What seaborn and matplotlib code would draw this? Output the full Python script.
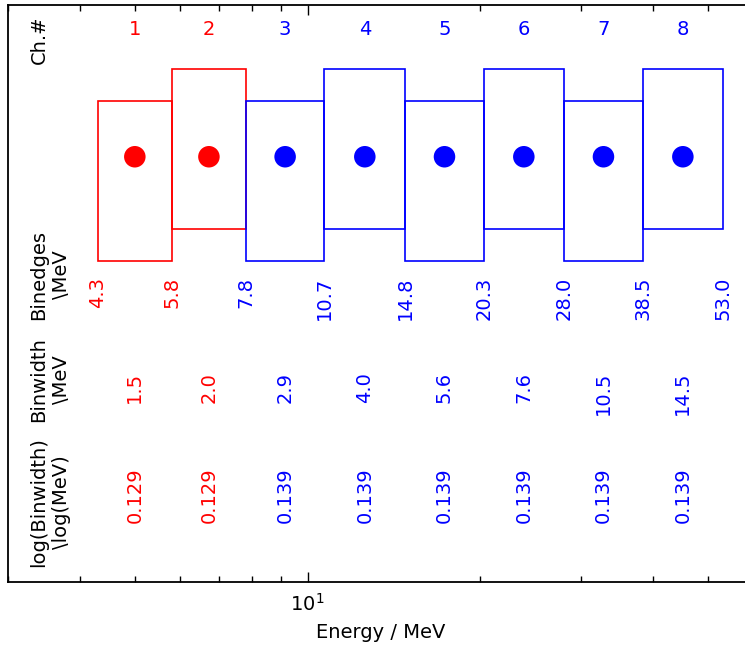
import numpy as np
import matplotlib
matplotlib.use('Agg')
from matplotlib import pyplot as plt
from matplotlib import transforms, ticker
import seaborn as sns

# 能道数据
channels = [1, 2, 3, 4, 5, 6, 7, 8]
edges = [4.3, 5.8, 7.8, 10.7, 14.8, 20.3, 28.0, 38.5, 53.0]
edge_labels = ['4.3', '5.8', '7.8', '10.7', '14.8', '20.3', '28.0', '38.5', '53.0']
binwidth_labels = ['1.5', '2.0', '2.9', '4.0', '5.6', '7.6', '10.5', '14.5']
logwidth_labels = ['0.129', '0.129', '0.139', '0.139', '0.139', '0.139', '0.139', '0.139']

sns.set_style('ticks')
plt.rcParams['font.family'] = ['DejaVu Sans']
plt.rcParams['text.color'] = 'black'
plt.rcParams['axes.labelcolor'] = 'black'
plt.rcParams['xtick.color'] = 'black'

colors = {'0.129': '#ff0000', '0.139': '#0000ff'}
ch_colors = [colors[v] for v in logwidth_labels]
edge_colors = ch_colors + [ch_colors[-1]]

left = np.array(edges[:-1])
right = np.array(edges[1:])
centers = np.sqrt(left * right)

fig = plt.figure(figsize=(7.45, 6.5), dpi=100)
ax = fig.add_axes([8 / 745, 68 / 650, 745.5 / 745, 577 / 650])
ax.set_xscale('log')
ax.set_xlim(3, 60)
ax.set_ylim(0, 100)

# 方框：奇偶道交错
bottoms = np.where(np.arange(len(channels)) % 2 == 0, 55.6, 61.2)
ax.bar(left, 27.7, width=right - left, bottom=bottoms, align='edge',
       fill=False, edgecolor=ch_colors, linewidth=1.2)

# 中心点
sns.scatterplot(x=centers, y=np.full(len(centers), 73.7), hue=logwidth_labels,
                palette=colors, s=240, linewidth=0, legend=False, ax=ax, zorder=3)

fs = 14
for c, ch, col in zip(centers, channels, ch_colors):
    ax.text(c, 95.7, str(ch), color=col, fontsize=fs, ha='center', va='center')
for e, lab, col in zip(edges, edge_labels, edge_colors):
    ax.text(e, 52.9, lab, color=col, fontsize=fs, rotation=90, ha='center', va='top')
for c, lab, col in zip(centers, binwidth_labels, ch_colors):
    ax.text(c, 36.4, lab, color=col, fontsize=fs, rotation=90, ha='center', va='top')
for c, lab, col in zip(centers, logwidth_labels, ch_colors):
    ax.text(c, 19.8, lab, color=col, fontsize=fs, rotation=90, ha='center', va='top')

trans = transforms.blended_transform_factory(ax.transAxes, ax.transData)
row_names = ['Ch.#', 'Binedges\n\\MeV', 'Binwidth\n\\MeV', 'log(Binwidth)\n\\log(MeV)']
row_y = [93.9, 53.2, 35.0, 13.9]
for name, y in zip(row_names, row_y):
    ax.text(0.029, y, name, transform=trans, fontsize=fs, rotation=90,
            ha='left', va='center', multialignment='center', color='black')

ax.set_yticks([])
ax.xaxis.set_major_locator(ticker.LogLocator(base=10))
ax.xaxis.set_minor_locator(ticker.LogLocator(base=10, subs=np.arange(2, 10)))
ax.xaxis.set_minor_formatter(ticker.NullFormatter())
ax.tick_params(axis='x', which='both', direction='in', top=True, bottom=True,
               labelsize=fs, pad=8, colors='black')
ax.tick_params(axis='x', which='major', length=7, width=1)
ax.tick_params(axis='x', which='minor', length=4, width=1)
for sp in ax.spines.values():
    sp.set_linewidth(1.3)
    sp.set_color('black')
ax.set_xlabel('Energy / MeV', fontsize=fs, labelpad=6, color='black')

fig.savefig('out.png', dpi=100)
